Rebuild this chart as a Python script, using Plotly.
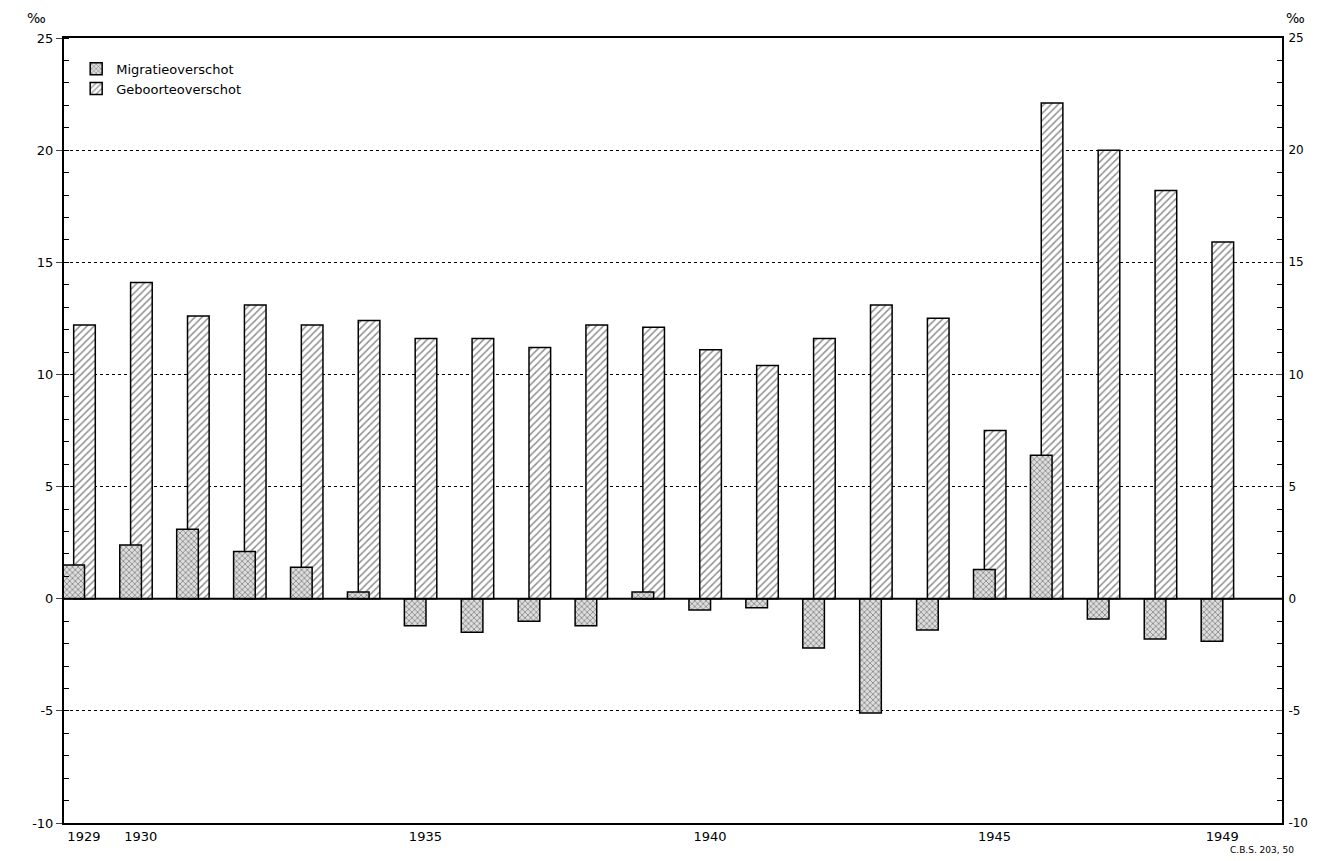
import plotly.graph_objects as go

years = list(range(1929, 1950))
geboorte = [12.2, 14.1, 12.6, 13.1, 12.2, 12.4, 11.6, 11.6, 11.2, 12.2, 12.1,
            11.1, 10.4, 11.6, 13.1, 12.5, 7.5, 22.1, 20.0, 18.2, 15.9]
migratie = [1.5, 2.4, 3.1, 2.1, 1.4, 0.3, -1.2, -1.5, -1.0, -1.2, 0.3,
            -0.5, -0.4, -2.2, -5.1, -1.4, 1.3, 6.4, -0.9, -1.8, -1.9]
xticks = [1929, 1930, 1935, 1940, 1945, 1949]
yticks = [-10, -5, 0, 5, 10, 15, 20, 25]
ylabels = ["-10", "-5", "0", "5", "10", "15", "20", "25"]

fig = go.Figure()
fig.add_trace(go.Bar(x=years, y=geboorte, name="Geboorteoverschot",
                     width=0.38, offset=-0.18,
                     marker=dict(color="white", line=dict(color="black", width=1.5),
                                 pattern=dict(shape="/", size=5, solidity=0.3, fgcolor="#222"))))
fig.add_trace(go.Bar(x=years, y=migratie, name="Migratieoverschot",
                     width=0.38, offset=-0.37,
                     marker=dict(color="#ddd", line=dict(color="black", width=1.5),
                                 pattern=dict(shape="x", size=4, solidity=0.35, fgcolor="#222"))))
# invisible trace for the right axis
fig.add_trace(go.Scatter(x=[1929], y=[0], yaxis="y2", showlegend=False,
                         mode="markers", marker_opacity=0, hoverinfo="skip"))

fig.add_hline(y=0, line_color="black", line_width=2)

font = dict(family="DejaVu Sans", size=13, color="black")
fig.update_layout(
    width=1318, height=861, barmode="overlay",
    paper_bgcolor="white", plot_bgcolor="white", font=font,
    margin=dict(l=56, r=44, t=30, b=46),
    legend=dict(x=0.01, y=0.98, bgcolor="rgba(0,0,0,0)", font=dict(size=13),
                traceorder="reversed"),
    xaxis=dict(range=[1928.65, 1950.05], tickvals=xticks, showgrid=False,
               showline=True, linecolor="black", linewidth=2, mirror=True,
               ticks="", zeroline=False, automargin=False),
    yaxis=dict(range=[-10, 25], tickvals=yticks, ticktext=ylabels, showgrid=True,
               gridcolor="black", griddash="dot", gridwidth=1,
               showline=True, linecolor="black", linewidth=2,
               ticks="outside", ticklen=6, zeroline=False, automargin=False,
               minor=dict(dtick=1, ticks="inside", ticklen=5, tickcolor="black")),
    yaxis2=dict(range=[-10, 25], tickvals=yticks, ticktext=ylabels,
                overlaying="y", side="right", tickfont=dict(size=12),
                showgrid=False, ticks="inside", ticklen=6, zeroline=False,
                showline=True, linecolor="black", linewidth=2, automargin=False,
                ticklabelstandoff=2,
                minor=dict(dtick=1, ticks="inside", ticklen=5, tickcolor="black")),
    annotations=[
        dict(text="‰", x=0, xref="paper", y=1.0, yref="paper", xanchor="right",
             yanchor="bottom", showarrow=False, font=dict(size=14),
             xshift=-16, yshift=10),
        dict(text="‰", x=1, xref="paper", y=1.0, yref="paper", xanchor="left",
             yanchor="bottom", showarrow=False, font=dict(size=14),
             xshift=2, yshift=10),
        dict(text="C.B.S. 203, 50", x=1, xref="paper", y=0, yref="paper",
             xanchor="right", yanchor="top", showarrow=False,
             font=dict(size=9), yshift=-20, xshift=14),
    ],
)
fig.write_html("out.html")
